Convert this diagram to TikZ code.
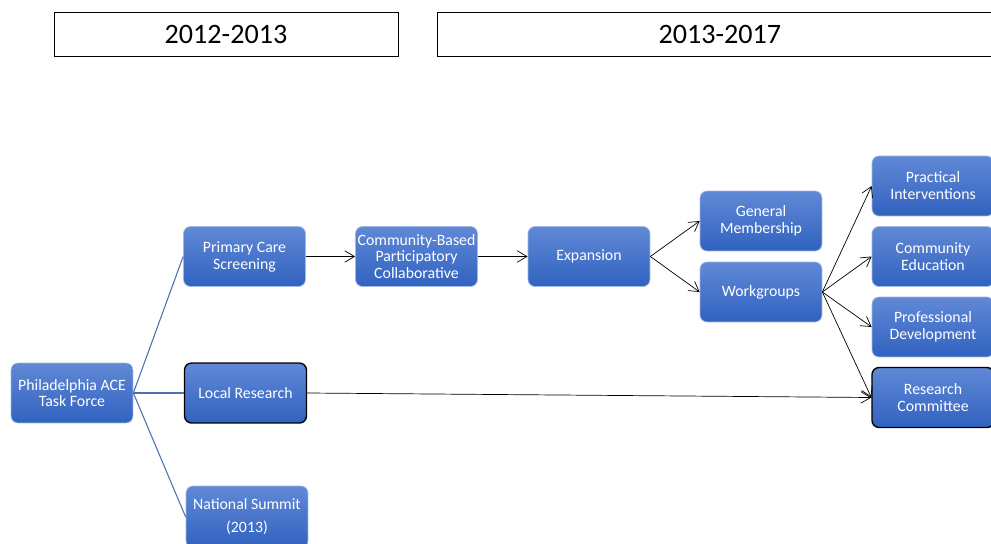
\documentclass[tikz,border=0pt]{standalone}
\usepackage{fontspec}
\setmainfont{Carlito}
\usetikzlibrary{arrows.meta}
\definecolor{acetop}{HTML}{6089D6}
\definecolor{acebot}{HTML}{3162C0}
\definecolor{aceline}{HTML}{4A70B0}

\begin{document}
\begin{tikzpicture}[x=0.02cm, y=-0.02cm,
  etapa/.style={draw=acetop!60!white, rounded corners=4pt, top color=acetop, bottom color=acebot,
                minimum width=2.44cm, minimum height=1.2cm, align=center, text=white,
                font=\fontsize{9}{9.6}\selectfont, inner sep=1pt},
  marcada/.style={draw=black, thick},
  periodo/.style={draw=black, minimum height=0.88cm, font=\fontsize{16}{18}\selectfont},
  flecha/.style={-{Straight Barb[length=5.5pt,width=6.5pt]}, black},
  rama/.style={aceline, semithick}]
\clip (0,0) rectangle (991,544);
% periods
\node[periodo, minimum width=6.88cm] (p1) at (226,34) {2012-2013};
\node[periodo, minimum width=11.3cm, text width=11.1cm, align=left] (p2) at (721,34) {\hspace{4.3cm}2013-2017};
% first column
\node[etapa] (tf) at (72,393) {Philadelphia ACE\\Task Force};
\node[etapa] (pcs) at (244.5,256.5) {Primary Care\\Screening};
\node[etapa, marcada] (lr) at (245.5,393) {Local Research};
\node[etapa, minimum height=1.24cm, font=\fontsize{9}{13}\selectfont] (ns) at (247,517) {National Summit\\(2013)};
% middle
\node[etapa] (cbpc) at (416.5,256.5) {Community-Based\\Participatory\\Collaborative};
\node[etapa] (exp) at (589,256.5) {Expansion};
\node[etapa] (gm) at (761,221) {General\\Membership};
\node[etapa] (wg) at (761,292) {Workgroups};
% right column
\node[etapa] (pi) at (933,186) {Practical\\Interventions};
\node[etapa] (ce) at (933,256.5) {Community\\Education};
\node[etapa] (pd) at (933,327) {Professional\\Development};
\node[etapa, marcada] (rc) at (933,397.5) {Research\\Committee};
% connectors
\draw[rama] (tf.east) -- (pcs.west);
\draw[rama] (tf.east) -- (lr.west);
\draw[rama] (tf.east) -- (ns.west);
\draw[flecha] (pcs) -- (cbpc);
\draw[flecha] (cbpc) -- (exp);
\draw[flecha] (exp.east) -- (gm.west);
\draw[flecha] (exp.east) -- (wg.west);
\draw[flecha] (wg.east) -- (pi.west);
\draw[flecha] (wg.east) -- (ce.west);
\draw[flecha] (wg.east) -- (pd.west);
\draw[flecha] (wg.east) -- (rc.west);
\draw[flecha] (lr.east) -- (rc.west);
\end{tikzpicture}
\end{document}
